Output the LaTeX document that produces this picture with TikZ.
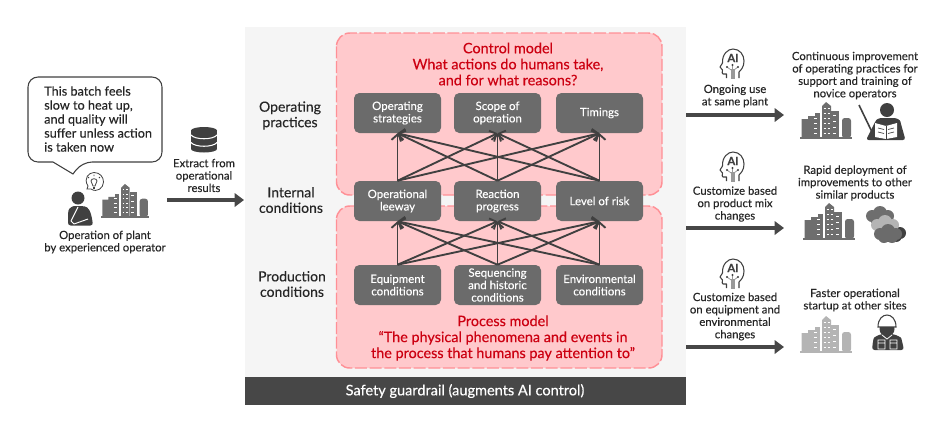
\documentclass[tikz,border=0pt]{standalone}
\usepackage{fontspec}
\setmainfont[FakeBold=0.25]{Lato}
\usetikzlibrary{arrows.meta}
\definecolor{darkbar}{HTML}{474747}
\definecolor{boxgray}{HTML}{6B6B6B}
\definecolor{arrowgray}{HTML}{404040}
\definecolor{pinkfill}{HTML}{FFC9CC}
\definecolor{pinkline}{HTML}{FF9096}
\definecolor{titlered}{HTML}{CC0011}
\definecolor{panelgray}{HTML}{F5F5F5}
\definecolor{plantdark}{HTML}{6E6E6E}
\definecolor{plantlight}{HTML}{B4B4B4}
\tikzset{
	smalltext/.style={inner sep=0pt,align=center,text=black!85,font=\fontsize{8.5}{9.3}\selectfont},
	rowtext/.style={inner sep=0pt,align=center,text=black!85,font=\fontsize{10.5}{11.6}\selectfont},
	modeltitle/.style={inner sep=0pt,align=center,text=titlered,font=\fontsize{10.8}{12}\selectfont},
	factorbox/.style={draw=none,fill=boxgray,rounded corners=4pt,minimum width=65.25pt,minimum height=30pt,inner sep=0pt,align=center,text=white,font=\fontsize{8.6}{9.3}\selectfont},
	modelbox/.style={fill=pinkfill,draw=pinkline,line width=1.1pt,dash pattern=on 9pt off 2pt,rounded corners=10pt},
	flowarrow/.style={arrowgray,line width=1.4pt,-{Straight Barb[length=4pt,width=9pt]}},
	bigarrow/.style={darkbar,line width=2.4pt,-{Triangle[length=7pt,width=10pt]},shorten >=0pt},
	pics/plant/.style={code={
		\fill[#1] (0,-2.5) rectangle (52,0);
		\fill[#1] (1.5,-2) -- (1.5,-20) -- (8,-20) -- (8,-23) -- (15,-23) -- (15,-2) -- cycle;
		\fill[#1] (15,-2) rectangle (20,-26);
		\fill[#1] (22,-2) -- (22,-33) -- (26,-37) -- (31,-33) -- (31,-2) -- cycle;
		\fill[#1] (31,-2) rectangle (39,-28);
		\fill[#1,rounded corners=2pt] (42,-1) -- (42,-21) -- (51,-21) -- (51,-1) -- cycle;
		\foreach \y in {-6,-11,-16,-21} {\draw[white,line width=0.7pt] (14,\y) -- (17,\y);}
		\foreach \y in {-6,-11,-16,-21,-26,-31} {\draw[white,line width=0.7pt] (23.5,\y) -- (25.5,\y) (27.5,\y) -- (29.5,\y);}
		\foreach \y in {-6,-12,-18,-24} {\draw[white,line width=0.7pt] (33,\y) -- (36,\y);}
	}},
	pics/aihead/.style={code={
		\draw[arrowgray,line width=0.8pt,line join=round] (6.5,29) -- (6.5,25) -- (3,25) .. controls (2,25) and (2,23) .. (2.5,21) -- (0,18) -- (2.5,14) .. controls (2,5) and (8,0) .. (13,0) .. controls (20,0) and (24,6) .. (24,12) .. controls (24,18) and (21,21) .. (19,23) -- (19,29);
		\fill[gray!80] (11,20) rectangle (14.5,30);
		\draw[gray!80,line width=0.6pt] (12.5,22) -- (7,18) (12.5,22) -- (18,18) (12.5,20) -- (12.5,16);
		\fill[arrowgray] (7,18) circle (1.1) (18,18) circle (1.1) (12.5,16) circle (1.1);
		\node[inner sep=0pt,text=arrowgray,font=\bfseries\fontsize{8.5}{9}\selectfont] at (13,9) {AI};
	}},
	pics/puff/.style={code={
		\fill[#1] (-8,0) circle (6) (0,-3) circle (7) (8,0) circle (6) (-4,3) circle (6) (4,3) circle (6);
	}}
}
\begin{document}
\begin{tikzpicture}[x=0.75pt,y=-0.75pt]
	\useasboundingbox (0,0) rectangle (950,437);

	\fill[panelgray] (245,27) rectangle (686,405);
	\fill[darkbar] (245,377) rectangle (686,405);
	\node (guardrail) [rowtext,text=white,font=\fontsize{10.9}{12}\selectfont] at (465,391) {Safety guardrail (augments AI control)};

	\draw[modelbox] (336.5,33) rectangle (662,195);
	\draw[modelbox] (336.5,206) rectangle (662,368);

	\node (controltitle) [modeltitle] at (508,64) {Control model\\What actions do humans take,\\and for what reasons?};
	\node (processtitle) [modeltitle] at (503,338) {Process model\\“The physical phenomena and events in\\the process that humans pay attention to”};

	\node (strategies) [factorbox] at (397.5,113) {Operating\\strategies};
	\node (scope) [factorbox] at (497.5,113) {Scope of\\operation};
	\node (timings) [factorbox] at (599.5,113) {Timings};
	\node (leeway) [factorbox] at (397.5,201) {Operational\\leeway};
	\node (progress) [factorbox] at (497.5,201) {Reaction\\progress};
	\node (risk) [factorbox] at (599.5,201) {Level of risk};
	\node (equipment) [factorbox] at (397.5,285) {Equipment\\conditions};
	\node (sequencing) [factorbox] at (497.5,285) {Sequencing\\and historic\\conditions};
	\node (environment) [factorbox] at (599.5,285) {Environmental\\conditions};

	\foreach \from in {leeway,progress,risk}
		\foreach \to in {strategies,scope,timings}
			\draw[flowarrow] (\from.north) -- (\to.south);
	\foreach \from in {equipment,sequencing,environment}
		\foreach \to in {leeway,progress,risk}
			\draw[flowarrow] (\from.north) -- (\to.south);

	\node (practices) [rowtext] at (290,115.5) {Operating\\practices};
	\node (internal) [rowtext] at (291,200) {Internal\\conditions};
	\node (production) [rowtext] at (292,284) {Production\\conditions};

	\draw[arrowgray,line width=0.8pt,fill=white,rounded corners=7.5pt] (53,162) -- (28,162) -- (28,77) -- (162,77) -- (162,162) -- (82,162) [sharp corners] -- (73,174) -- cycle;
	\node (speech) [inner sep=0pt,align=left,text=black!85,anchor=west,font=\fontsize{9.5}{10.5}\selectfont] at (44,119) {This batch feels\\slow to heat up,\\and quality will\\suffer unless action\\is taken now};

	\draw[arrowgray,line width=0.6pt,fill=white] (87,189) -- (88,186) .. controls (83,178) and (89,172.5) .. (94,172.5) .. controls (100,172.5) and (103.5,177) .. (103.5,182) .. controls (103.5,188) and (97,193) .. (91,189) -- cycle;
	\draw[arrowgray,line width=0.6pt] (91,181) .. controls (91,178) and (97,178) .. (97,181) -- (95,186) -- (93,186) -- cycle;
	\draw[arrowgray,line width=0.6pt] (94,174.5) -- (94,176) (88,177) -- (89,178) (100,177) -- (99,178);
	\fill[arrowgray] (93,187) rectangle (95,189);
	\fill[arrowgray] (78,198) circle (6.5);
	\fill[arrowgray,rounded corners=2pt] (68,225.5) -- (68,213) .. controls (69,208) and (73,206) .. (77,206) -- (82,206) .. controls (88,207) and (91,210) .. (93,225.5) -- cycle;
	\draw[white,line width=0.7pt,line join=round] (78,207) -- (71,221) -- (74,224) -- (88,219);
	\pic[scale=0.92] at (101,218) {plant=plantdark};
	\node (operation) [smalltext] at (105,242) {Operation of plant\\by experienced operator};

	\fill[arrowgray] (191,130.5) rectangle (217,149);
	\fill[arrowgray] (204,130.5) ellipse[x radius=13, y radius=3.5];
	\fill[arrowgray] (204,149) ellipse[x radius=13, y radius=3.5];
	\draw[white,line width=0.8pt] (191,135) .. controls (195,140) and (213,140) .. (217,135);
	\draw[white,line width=0.8pt] (191,142.5) .. controls (195,147.5) and (213,147.5) .. (217,142.5);
	\node (extract) [smalltext] at (204,175.5) {Extract from\\operational\\results};
	\coordinate (extractstart) at (167,200);
	\coordinate (extractend) at (244,200);
	\draw[bigarrow] (extractstart) -- (extractend);

	\pic at (720,49) {aihead};
	\pic at (720,152) {aihead};
	\pic at (720,259) {aihead};
	\node (samesite) [smalltext] at (735,96) {Ongoing use\\at same plant};
	\node (productmix) [smalltext] at (735,204) {Customize based\\on product mix\\changes};
	\node (equipchange) [smalltext] at (735,316.5) {Customize based\\on equipment and\\environmental\\changes};
	\coordinate (usestart) at (686,115);
	\coordinate (useend) at (784,115);
	\coordinate (mixstart) at (686,228);
	\coordinate (mixend) at (784,228);
	\coordinate (sitestart) at (686,347);
	\coordinate (siteend) at (784,347);
	\draw[bigarrow] (usestart) -- (useend);
	\draw[bigarrow] (mixstart) -- (mixend);
	\draw[bigarrow] (sitestart) -- (siteend);

	\node (improvement) [smalltext] at (855,75.5) {Continuous improvement\\of operating practices for\\support and training of\\novice operators};
	\node (deployment) [smalltext] at (855,183) {Rapid deployment of\\improvements to other\\similar products};
	\node (startup) [smalltext] at (855,300) {Faster operational\\startup at other sites};

	\pic at (800,139) {plant=plantdark};
	\pic at (803,240) {plant=plantdark};
	\pic at (800,353) {plant=plantlight};

	\draw[arrowgray,line width=1.2pt] (859,105) -- (872,132);
	\fill[arrowgray] (887,110) circle (7);
	\fill[arrowgray,rounded corners=2pt] (866,140) -- (875,122) .. controls (877,119) and (880,118) .. (884,118) -- (891,118) .. controls (897,118) and (900,120) .. (901,124) -- (905.5,140) -- cycle;
	\fill[white] (875,123) -- (886,126) -- (897,123) -- (897,137) -- (886,139) -- (875,137) -- cycle;
	\draw[arrowgray,line width=0.6pt] (886,126) -- (886,139);
	\draw[arrowgray,line width=0.5pt] (878,128) -- (884,129.5) (878,132) -- (884,133.5) (888,129.5) -- (894,128) (888,133.5) -- (894,132);

	\pic at (892,233) {puff=black!75};
	\pic at (880,216) {puff=plantdark};
	\pic at (885,225) {puff=plantlight};
	\pic at (888,234) {puff=black!58};

	\fill[arrowgray] (887,329) circle (7.5);
	\draw[arrowgray,line width=0.8pt,fill=white] (878,327) .. controls (878,311) and (896,311) .. (896,327) -- cycle;
	\fill[arrowgray,rounded corners=2pt] (872,350) -- (873,341) .. controls (874,337) and (879,335) .. (882,334) -- (892,334) .. controls (896,335) and (901,337) .. (902,341) -- (904,350) -- cycle;
	\draw[white,line width=0.6pt] (878,340) rectangle (885,349) (890,340) rectangle (897,349) (878,343) -- (885,343) (890,343) -- (897,343) (882,335) -- (887,339) -- (892,335);
\end{tikzpicture}
\end{document}
